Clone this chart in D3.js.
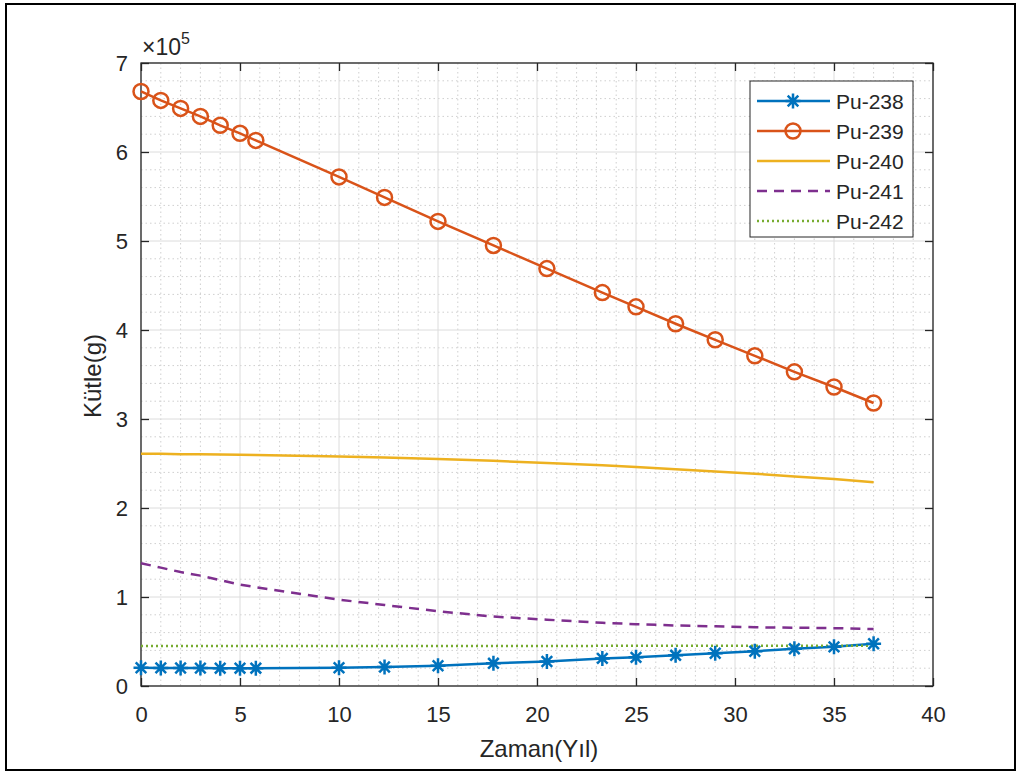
<!DOCTYPE html>
<html>
<head>
<meta charset="utf-8">
<script src="https://cdn.jsdelivr.net/npm/d3@7"></script>
<style>
  body { margin: 0; background: #fff; }
  svg text { font-family: "Liberation Sans", Arial, sans-serif; fill: #262626; }
</style>
</head>
<body>
<svg id="chart"></svg>
<script>
// time points (yil)
let years = [0, 1, 2, 3, 4, 5, 5.8, 10, 12.3, 15, 17.8, 20.5, 23.3, 25, 27, 29, 31, 33, 35, 37];

// masses in units of 1e5 g
let pu238 = [0.205, 0.203, 0.202, 0.201, 0.2, 0.2, 0.2, 0.205, 0.213, 0.228, 0.255, 0.275, 0.31, 0.322, 0.345, 0.368, 0.39, 0.418, 0.44, 0.475];
let pu239 = [6.68, 6.58, 6.49, 6.40, 6.30, 6.21, 6.13, 5.72, 5.49, 5.22, 4.95, 4.69, 4.42, 4.26, 4.07, 3.89, 3.71, 3.53, 3.36, 3.18];
let pu240 = [2.61, 2.61, 2.605, 2.603, 2.6, 2.598, 2.595, 2.58, 2.568, 2.55, 2.53, 2.505, 2.48, 2.46, 2.435, 2.41, 2.385, 2.355, 2.325, 2.29];
let pu241 = [1.38, 1.33, 1.28, 1.24, 1.19, 1.14, 1.11, 0.97, 0.91, 0.84, 0.78, 0.745, 0.71, 0.695, 0.68, 0.67, 0.66, 0.655, 0.65, 0.64];
let pu242 = [0.449, 0.449, 0.449, 0.449, 0.449, 0.449, 0.449, 0.45, 0.45, 0.45, 0.45, 0.45, 0.451, 0.451, 0.451, 0.451, 0.452, 0.452, 0.452, 0.452];

let seriesNames = ['Pu-238', 'Pu-239', 'Pu-240', 'Pu-241', 'Pu-242'];
let xTicks = [0, 5, 10, 15, 20, 25, 30, 35, 40];
let yTicks = [0, 1, 2, 3, 4, 5, 6, 7];

let svgWidth = 1021, svgHeight = 772;
let pLeft = 141, pRight = 933, pTop = 63, pBottom = 686;

let svg = d3.select('#chart')
            .attr('width', svgWidth)
            .attr('height', svgHeight);

// outer frame
svg.append('rect')
   .attr('x', 6).attr('y', 4)
   .attr('width', 1009).attr('height', 766)
   .attr('fill', '#fff')
   .attr('stroke', '#000')
   .attr('stroke-width', 2);

let x = d3.scaleLinear().domain([0, 40]).range([pLeft, pRight]);
let y = d3.scaleLinear().domain([0, 7]).range([pBottom, pTop]);

// minor grid
let xMinor = d3.range(0, 41, 1).filter(d => d % 5 !== 0);
let yMinor = d3.range(0, 7.01, 0.2).filter(d => Math.abs(d - Math.round(d)) > 0.01);

svg.append('g').selectAll('line')
   .data(xMinor).enter().append('line')
   .attr('x1', d => x(d)).attr('x2', d => x(d))
   .attr('y1', pTop).attr('y2', pBottom)
   .attr('stroke', '#cfcfcf').attr('stroke-width', 1)
   .attr('stroke-dasharray', '1.5,3');

svg.append('g').selectAll('line')
   .data(yMinor).enter().append('line')
   .attr('x1', pLeft).attr('x2', pRight)
   .attr('y1', d => y(d)).attr('y2', d => y(d))
   .attr('stroke', '#cfcfcf').attr('stroke-width', 1)
   .attr('stroke-dasharray', '1.5,3');

// major grid
svg.append('g').selectAll('line')
   .data(xTicks).enter().append('line')
   .attr('x1', d => x(d)).attr('x2', d => x(d))
   .attr('y1', pTop).attr('y2', pBottom)
   .attr('stroke', '#dcdcdc').attr('stroke-width', 1);

svg.append('g').selectAll('line')
   .data(yTicks).enter().append('line')
   .attr('x1', pLeft).attr('x2', pRight)
   .attr('y1', d => y(d)).attr('y2', d => y(d))
   .attr('stroke', '#dcdcdc').attr('stroke-width', 1);

// axes (ticks inward, box on)
let axisColor = '#262626';
let fmt = d3.format('d');
let styleAxis = g => {
    g.select('.domain').remove();
    g.selectAll('.tick line').attr('stroke', axisColor).attr('stroke-width', 1.3);
    g.selectAll('.tick text').attr('font-size', 22).attr('fill', '#333')
     .attr('font-family', '"Liberation Sans", Arial, sans-serif');
};

svg.append('g').attr('transform', 'translate(0,' + pBottom + ')')
   .call(d3.axisBottom(x).tickValues(xTicks).tickFormat(fmt).tickSizeInner(-8).tickPadding(20))
   .call(styleAxis);
svg.append('g').attr('transform', 'translate(0,' + pTop + ')')
   .call(d3.axisTop(x).tickValues(xTicks).tickFormat('').tickSizeInner(-8))
   .call(styleAxis);
svg.append('g').attr('transform', 'translate(' + pLeft + ',0)')
   .call(d3.axisLeft(y).tickValues(yTicks).tickFormat(fmt).tickSizeInner(-8).tickPadding(13))
   .call(styleAxis);
svg.append('g').attr('transform', 'translate(' + pRight + ',0)')
   .call(d3.axisRight(y).tickValues(yTicks).tickFormat('').tickSizeInner(-8))
   .call(styleAxis);

svg.append('rect')
   .attr('x', pLeft).attr('y', pTop)
   .attr('width', pRight - pLeft).attr('height', pBottom - pTop)
   .attr('fill', 'none').attr('stroke', axisColor).attr('stroke-width', 1.3);

// exponent label
let expo = svg.append('text').attr('x', pLeft + 1).attr('y', 55).attr('font-size', 23).attr('fill', '#444');
expo.append('tspan').text('\u00d710');
expo.append('tspan').attr('dy', -11).attr('font-size', 16).text('5');

// axis titles
svg.append('text')
   .attr('x', 539).attr('y', 757)
   .attr('text-anchor', 'middle').attr('font-size', 24).attr('fill', '#333')
   .text('Zaman(Y\u0131l)');
svg.append('text')
   .attr('transform', 'translate(101,376) rotate(-90)')
   .attr('text-anchor', 'middle').attr('font-size', 24).attr('fill', '#333')
   .text('K\u00fctle(g)');

// series
let colors = ['#0072BD', '#D95319', '#EDB120', '#7E2F8E', '#77AC30'];
let dashes = [null, null, null, '10,7', '2,3'];
let allSeries = [pu238, pu239, pu240, pu241, pu242];

let line = d3.line().x(d => x(d[0])).y(d => y(d[1]));

allSeries.forEach(function(vals, i) {
    let pts = years.map((t, j) => [t, vals[j]]);
    svg.append('path')
       .datum(pts)
       .attr('d', line)
       .attr('fill', 'none')
       .attr('stroke', colors[i])
       .attr('stroke-width', 2.5)
       .attr('stroke-dasharray', dashes[i]);
});

let starPath = function(r) {
    let d = '';
    for (let k = 0; k < 4; k++) {
        let a = k * Math.PI / 4;
        let dx = r * Math.cos(a), dy = r * Math.sin(a);
        d += 'M' + (-dx) + ',' + (-dy) + 'L' + dx + ',' + dy;
    }
    return d;
};

svg.append('g').selectAll('path')
   .data(years.map((t, j) => [t, pu238[j]]))
   .enter().append('path')
   .attr('d', starPath(7.5))
   .attr('transform', d => 'translate(' + x(d[0]) + ',' + y(d[1]) + ')')
   .attr('stroke', colors[0]).attr('stroke-width', 2.5).attr('fill', 'none');

svg.append('g').selectAll('circle')
   .data(years.map((t, j) => [t, pu239[j]]))
   .enter().append('circle')
   .attr('cx', d => x(d[0])).attr('cy', d => y(d[1]))
   .attr('r', 7.5)
   .attr('stroke', colors[1]).attr('stroke-width', 2.5).attr('fill', 'none');

// legend
let lg = svg.append('g');
lg.append('rect')
  .attr('x', 750).attr('y', 81).attr('width', 163).attr('height', 156)
  .attr('fill', '#fff').attr('stroke', axisColor).attr('stroke-width', 1);

seriesNames.forEach(function(name, i) {
    let ly = 101 + i * 30;
    lg.append('line')
      .attr('x1', 757).attr('x2', 830).attr('y1', ly).attr('y2', ly)
      .attr('stroke', colors[i]).attr('stroke-width', 2.5)
      .attr('stroke-dasharray', dashes[i]);
    if (i === 0) {
        lg.append('path').attr('d', starPath(7.5))
          .attr('transform', 'translate(793,' + ly + ')')
          .attr('stroke', colors[0]).attr('stroke-width', 2.5);
    }
    if (i === 1) {
        lg.append('circle').attr('cx', 793).attr('cy', ly).attr('r', 7.5)
          .attr('stroke', colors[1]).attr('stroke-width', 2.5).attr('fill', 'none');
    }
    lg.append('text')
      .attr('x', 836).attr('y', ly + 7.5)
      .attr('font-size', 21)
      .text(name);
});
</script>
</body>
</html>
